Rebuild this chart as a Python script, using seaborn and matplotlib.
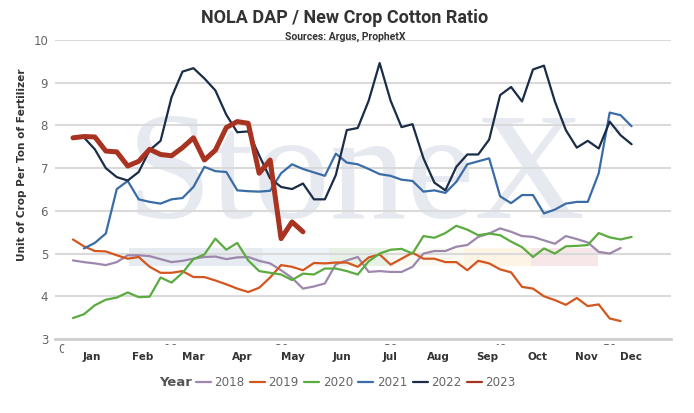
import matplotlib
matplotlib.use("Agg")
import matplotlib.pyplot as plt
import numpy as np
import pandas as pd
import seaborn as sns
from matplotlib.lines import Line2D
from matplotlib.patches import Rectangle

# weekly ratio values (week of year on x)
years = ["2018", "2019", "2020", "2021", "2022", "2023"]
start_week = {"2018": 1, "2019": 1, "2020": 1, "2021": 2, "2022": 2, "2023": 1}

ratio_2018 = [4.84, 4.80, 4.77, 4.73, 4.80, 4.96, 4.96, 4.94, 4.87, 4.80, 4.83, 4.88, 4.92, 4.93,
              4.87, 4.91, 4.92, 4.83, 4.77, 4.61, 4.43, 4.18, 4.23, 4.30, 4.75, 4.84, 4.92, 4.57,
              4.59, 4.57, 4.57, 4.69, 5.00, 5.06, 5.06, 5.16, 5.20, 5.39, 5.47, 5.59, 5.51, 5.41,
              5.39, 5.31, 5.23, 5.41, 5.34, 5.26, 5.04, 5.00, 5.13]
ratio_2019 = [5.33, 5.17, 5.06, 5.05, 4.96, 4.88, 4.92, 4.69, 4.55, 4.55, 4.59, 4.45, 4.45, 4.37,
              4.28, 4.18, 4.10, 4.20, 4.44, 4.73, 4.69, 4.61, 4.78, 4.77, 4.79, 4.79, 4.69, 4.91,
              4.98, 4.74, 4.88, 5.02, 4.88, 4.88, 4.80, 4.80, 4.61, 4.83, 4.77, 4.63, 4.56, 4.22,
              4.18, 4.00, 3.91, 3.80, 3.96, 3.77, 3.81, 3.48, 3.42]
ratio_2020 = [3.49, 3.58, 3.79, 3.92, 3.97, 4.09, 3.98, 3.99, 4.44, 4.32, 4.55, 4.87, 4.98, 5.35,
              5.09, 5.25, 4.84, 4.59, 4.55, 4.51, 4.38, 4.53, 4.51, 4.65, 4.65, 4.59, 4.51, 4.82,
              5.00, 5.09, 5.11, 5.00, 5.41, 5.37, 5.48, 5.65, 5.56, 5.43, 5.47, 5.43, 5.28, 5.15,
              4.92, 5.12, 5.00, 5.17, 5.18, 5.20, 5.48, 5.38, 5.33, 5.39]
ratio_2021 = [5.12, 5.25, 5.47, 6.51, 6.70, 6.27, 6.21, 6.17, 6.27, 6.30, 6.56, 7.03, 6.93,
              6.91, 6.48, 6.46, 6.45, 6.47, 6.88, 7.09, 6.98, 6.90, 6.82, 7.34, 7.13, 7.09, 6.98,
              6.86, 6.82, 6.73, 6.70, 6.45, 6.48, 6.42, 6.68, 7.09, 7.16, 7.23, 6.34, 6.18, 6.37,
              6.37, 5.94, 6.03, 6.17, 6.21, 6.21, 6.88, 8.30, 8.24, 7.98]
ratio_2022 = [7.72, 7.44, 7.00, 6.79, 6.71, 6.91, 7.42, 7.64, 8.66, 9.26, 9.34, 9.10, 8.82,
              8.25, 7.84, 7.86, 7.30, 6.76, 6.56, 6.51, 6.64, 6.27, 6.27, 6.84, 7.89, 7.94, 8.58,
              9.46, 8.58, 7.96, 8.03, 7.23, 6.66, 6.48, 7.03, 7.32, 7.32, 7.67, 8.71, 8.90, 8.56,
              9.31, 9.40, 8.56, 7.89, 7.48, 7.64, 7.46, 8.09, 7.77, 7.56]
ratio_2023 = [7.71, 7.74, 7.73, 7.40, 7.38, 7.05, 7.16, 7.44, 7.32, 7.29, 7.48, 7.71, 7.19, 7.42,
              7.95, 8.09, 8.05, 6.88, 7.19, 5.35, 5.74, 5.51]

year_colors = ["#9d87ad", "#d4561f", "#5bab40", "#3a6ca6", "#1a2d47", "#a83320"]
year_widths = [1.6, 1.6, 1.6, 1.6, 1.6, 3.6]

month_labels = ["Jan", "Feb", "Mar", "Apr", "May", "Jun", "Jul", "Aug", "Sep", "Oct", "Nov", "Dec"]
month_weeks = [2.7, 7.4, 11.95, 16.45, 21.1, 25.55, 29.95, 34.4, 38.85, 43.4, 47.9, 51.95]
week_ticks = [0, 10, 20, 30, 40, 50]

series = dict(zip(years, [ratio_2018, ratio_2019, ratio_2020, ratio_2021, ratio_2022, ratio_2023]))
frames = []
for yr in years:
    vals = series[yr]
    wk = np.arange(start_week[yr], start_week[yr] + len(vals))
    frames.append(pd.DataFrame({"Week": wk, "Ratio": vals, "Year": yr}))
df = pd.concat(frames, ignore_index=True)

W, H = 694, 413
fig = plt.figure(figsize=(W / 100, H / 100), dpi=100)
sns.set_style("white")
plt.rcParams["font.family"] = ["DejaVu Sans"]

L, R, T, B = 55, 671, 40, 339
ax = fig.add_axes([L / W, 1 - B / H, (R - L) / W, (B - T) / H])


def px(x, y):
    return x / W, 1 - y / H


# StoneX watermark behind the lines
ax.text(*px(127, 218), "StoneX", transform=fig.transFigure, fontsize=110,
        family="Liberation Serif", color="#e6e9f0", ha="left", va="baseline", zorder=0.1)
ax.text(*px(608, 133), "TM", transform=fig.transFigure, fontsize=9,
        family="Liberation Serif", color="#e6e9f0", ha="left", va="baseline", zorder=0.1)
bands = [(129, 262, "#e6eaf1"), (262, 329, "#eef3f8"), (329, 388, "#e8f1e6"),
         (388, 464, "#fbfaf2"), (464, 531, "#fdf4e6"), (531, 598, "#f7e7e8")]
for x0, x1, c in bands:
    ax.add_patch(Rectangle(px(x0, 266), (x1 - x0) / W, 18 / H, transform=fig.transFigure,
                           facecolor=c, edgecolor="none", zorder=0.2))

palette = dict(zip(years, year_colors))
sizes = dict(zip(years, year_widths))
sns.lineplot(data=df, x="Week", y="Ratio", hue="Year", size="Year", palette=palette,
             sizes=sizes, legend=False, ax=ax, zorder=3)
for ln in ax.get_lines():
    ln.set_solid_joinstyle("round")
    ln.set_solid_capstyle("round")

ax.set_xlim(-0.64, 55.6)
ax.set_ylim(3, 10)
ax.set_yticks(range(3, 11))
ax.set_xticks(week_ticks)
ax.grid(axis="y", color="#dadada", linewidth=1.5)
ax.set_axisbelow(True)
for s in ["top", "right", "left"]:
    ax.spines[s].set_visible(False)
ax.spines["bottom"].set_color("#d0d0d0")
ax.spines["bottom"].set_linewidth(2)
ax.tick_params(axis="both", length=0, labelcolor="#666666", labelsize=8.5)
ax.tick_params(axis="y", pad=5)
ax.tick_params(axis="x", pad=3)
ax.set_xlabel("")
ax.set_ylabel("Unit of Crop Per Ton of Fertilizer", fontsize=7.6, fontweight="bold",
              color="#333333")
ax.yaxis.set_label_coords((27 - L) / (R - L), (B - 165) / (B - T))

# month labels sit on a white strip that hides most of the week numbers
fig.patches.append(Rectangle(px(64, 371), (R - 64) / W, 26.5 / H, transform=fig.transFigure,
                             facecolor="white", edgecolor="none", zorder=5))
for m, wk in zip(month_labels, month_weeks):
    xf = fig.transFigure.inverted().transform(ax.transData.transform((wk, 3)))[0]
    fig.text(xf, px(0, 357)[1], m, ha="center", va="center", fontsize=7.5,
             fontweight="bold", color="#333333", zorder=6)

fig.text(*px(345, 18), "NOLA DAP / New Crop Cotton Ratio", ha="center", va="center",
         fontsize=13, family="Roboto", fontweight="bold", color="#333333")
fig.text(*px(345, 37), "Sources: Argus, ProphetX", ha="center", va="center",
         fontsize=7.5, family="Roboto", fontweight="bold", color="#333333")

fig.text(*px(159, 383), "Year", ha="left", va="center", fontsize=9.5,
         fontweight="bold", color="#555555", zorder=7)
handles = [Line2D([], [], color=c, linewidth=1.6) for c in year_colors]
leg = fig.legend(handles, years, loc="center left", bbox_to_anchor=px(196, 383), ncol=6,
                 frameon=False, fontsize=8.6, handlelength=1.25, handletextpad=0.3,
                 columnspacing=0.45, borderaxespad=0, borderpad=0)
for t in leg.get_texts():
    t.set_color("#666666")
leg.set_zorder(7)

fig.savefig("out.png", dpi=100)
